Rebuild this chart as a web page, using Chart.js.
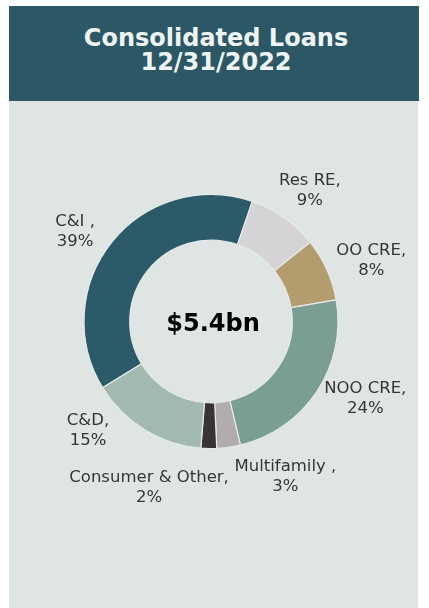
<!DOCTYPE html>
<html>
<head>
<meta charset="utf-8">
<script src="https://cdn.jsdelivr.net/npm/chart.js@4.4.0/dist/chart.umd.min.js"></script>
<style>
  html, body { margin: 0; padding: 0; background: #ffffff; width: 429px; height: 608px; overflow: hidden; }
  #header { position: absolute; left: 9px; top: 6px; width: 410px; height: 95px; background: #2C5764; }
  #panel { position: absolute; left: 9px; top: 101px; width: 409px; height: 507px; background: #DFE5E3; }
  #title { position: absolute; left: 11px; top: 26px; width: 410px; text-align: center; color: #EEF4F3;
           font-family: "DejaVu Sans", sans-serif; font-weight: bold; font-size: 24px; line-height: 24px; }
  #wrap { position: absolute; left: 0; top: 0; width: 429px; height: 608px; }
</style>
</head>
<body>
<div id="header"></div>
<div id="panel"></div>
<div id="title">Consolidated Loans<br>12/31/2022</div>
<div id="wrap"><canvas id="c" width="429" height="608"></canvas></div>
<script>
const categories = ["C&I ,", "Res RE,", "OO CRE,", "NOO CRE,", "Multifamily ,", "Consumer & Other,", "C&D,"];
const values = [39, 9, 8, 24, 3, 2, 15];
const pctLabels = ["39%", "9%", "8%", "24%", "3%", "2%", "15%"];
const totalLabel = "$5.4bn";

const colors = ["#2B5A69", "#D5D3D6", "#B39C6E", "#7B9E92", "#B2ACAE", "#393335", "#A2B9B0"];
// label nudges (px) from the mid-angle anchor point
const labelNudge = [[-5, 15], [2, 6], [7, 8], [14, -15], [51, -11], [-59, -1.5], [-35, -34]];

const labelPlugin = {
  id: 'sliceLabels',
  afterDraw(chart) {
    const ctx = chart.ctx;
    const meta = chart.getDatasetMeta(0);
    ctx.save();
    ctx.textAlign = 'center';
    ctx.textBaseline = 'middle';
    ctx.fillStyle = '#363636';
    ctx.font = '16.5px "DejaVu Sans", sans-serif';
    meta.data.forEach((arc, i) => {
      const p = arc.getProps(['x', 'y', 'startAngle', 'endAngle', 'outerRadius'], true);
      const mid = (p.startAngle + p.endAngle) / 2;
      const d = p.outerRadius + 41;
      const x = p.x + Math.cos(mid) * d + labelNudge[i][0];
      const y = p.y + Math.sin(mid) * d + labelNudge[i][1];
      ctx.fillText(categories[i], x, y - 10);
      ctx.fillText(pctLabels[i], x, y + 10);
    });
    const a0 = meta.data[0];
    ctx.fillStyle = '#000000';
    ctx.font = 'bold 24px "DejaVu Sans", sans-serif';
    ctx.fillText(totalLabel, a0.x + 2, a0.y + 3);
    ctx.restore();
  }
};

new Chart(document.getElementById('c'), {
  type: 'doughnut',
  data: {
    labels: categories,
    datasets: [{
      data: values,
      backgroundColor: colors,
      borderColor: '#E6EAE8',
      borderWidth: 1.2
    }]
  },
  options: {
    responsive: false,
    animation: false,
    rotation: -121.4,
    radius: 127,
    cutout: '64%',
    layout: { padding: { top: 35, bottom: 0, left: 0, right: 7 } },
    plugins: {
      legend: { display: false },
      tooltip: { enabled: false },
      title: { display: false }
    }
  },
  plugins: [labelPlugin]
});
</script>
</body>
</html>
